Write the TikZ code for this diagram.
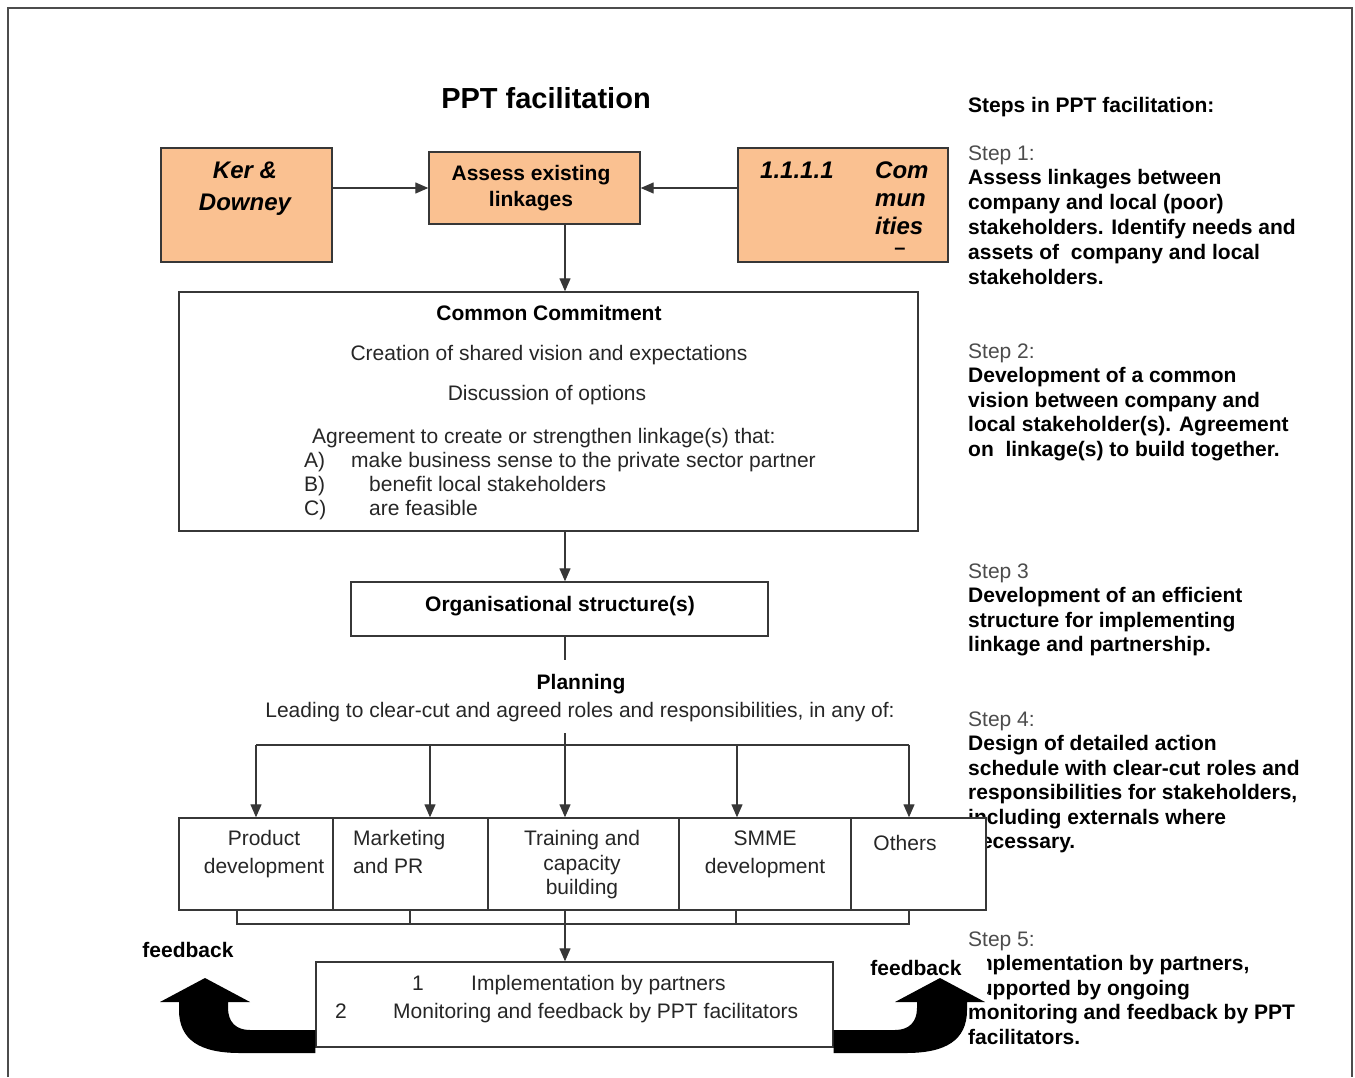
\documentclass[tikz,border=0pt]{standalone}
\usepackage{fontspec}
\setmainfont{Liberation Sans}
\usetikzlibrary{arrows.meta,calc}
\definecolor{orangefill}{RGB}{250,193,145}
\definecolor{linegray}{RGB}{55,55,55}
\begin{document}
\begin{tikzpicture}[x=1pt,y=-1pt,
  box/.style={draw=linegray,line width=1.4pt,inner sep=0pt},
  obox/.style={box,fill=orangefill},
  wbox/.style={box,fill=white},
  txt/.style={inner sep=0pt,text=black!85,font=\fontsize{21}{24.6}\selectfont,text height=17pt,text depth=3pt},
  btxt/.style={inner sep=0pt,text=black,font=\fontsize{21}{24.6}\selectfont\bfseries,text height=17pt,text depth=3pt},
  bitxt/.style={inner sep=0pt,text=black,font=\fontsize{24}{28}\selectfont\bfseries\itshape,text height=19pt,text depth=3pt},
  steplbl/.style={txt,anchor=west,text=black!70},
  stepline/.style={btxt,anchor=west},
  ln/.style={draw=linegray,line width=1.3pt},
  arr/.style={ln,-{Triangle[length=13pt,width=11pt]}},
  fbarrow/.style={fill=black}
]
\useasboundingbox (0,0) rectangle (1355,1077);
% outer frame
\draw[line width=2.2pt,black!70] (8,1077) -- (8,8) -- (1352,8) -- (1352,1077);

% ---------- right column ----------
\node[btxt,anchor=west] (steps) at (968,105) {Steps in PPT facilitation:};
\node[steplbl] (s1) at (968,153) {Step 1:};
\foreach \myline [count=\i] in {Assess linkages between, company and local (poor), stakeholders. Identify needs and, assets of\ \ company and local, stakeholders.}
  \node[stepline] (s1l\i) at (968,{153+24.8*\i}) {\myline};
\node[steplbl] (s2) at (968,351) {Step 2:};
\foreach \myline [count=\i] in {Development of a common, vision between company and, local stakeholder(s). Agreement, on\ \ linkage(s) to build together.}
  \node[stepline] (s2l\i) at (968,{351+24.5*\i}) {\myline};
\node[steplbl] (s3) at (968,571) {Step 3};
\foreach \myline [count=\i] in {Development of an efficient, structure for implementing, linkage and partnership.}
  \node[stepline] (s3l\i) at (968,{571+24.5*\i}) {\myline};
\node[steplbl] (s4) at (968,719) {Step 4:};
\foreach \myline [count=\i] in {Design of detailed action, schedule with clear-cut roles and, {responsibilities for stakeholders,}, including externals where, necessary.}
  \node[stepline] (s4l\i) at (968,{719+24.5*\i}) {\myline};
\node[steplbl] (s5) at (968,939) {Step 5:};
\foreach \myline [count=\i] in {{Implementation by partners,}, supported by ongoing, monitoring and feedback by PPT, facilitators.}
  \node[stepline] (s5l\i) at (968,{939+24.6*\i}) {\myline};

% ---------- title ----------
\node[inner sep=0pt,font=\fontsize{29}{33}\selectfont\bfseries,text height=22pt,text depth=4pt] (title) at (546,99) {PPT facilitation};

% ---------- top boxes ----------
\node[obox,minimum width=171pt,minimum height=114pt] (ker) at (246.5,205) {};
\node[obox,minimum width=211pt,minimum height=72pt] (assess) at (534.5,188) {};
\node[obox,minimum width=210pt,minimum height=114pt] (comm) at (843,205) {};
\node[bitxt] (k1) at (245,170) {Ker \&};
\node[bitxt] (k2) at (245,202) {Downey};
\node[btxt] (a1) at (531,173) {Assess existing};
\node[btxt] (a2) at (531,199) {linkages};
\node[bitxt,anchor=west] (c0) at (760,170) {1.1.1.1};
\node[bitxt,anchor=west] (c1) at (875,170) {Com};
\node[bitxt,anchor=west] (c2) at (875,198) {mun};
\node[bitxt,anchor=west] (c3) at (875,226) {ities};
\node[inner sep=0pt,font=\fontsize{20}{22}\selectfont\bfseries,text height=4pt,text depth=0pt] (c4) at (900,252) {–};

\coordinate (sp) at (565,0);
\draw[arr] (ker.east |- assess.west) -- (assess.west);
\draw[arr] (comm.west |- assess.east) -- (assess.east);

% ---------- common commitment ----------
\node[wbox,minimum width=739pt,minimum height=239pt] (commit) at (548.5,411.5) {};
\draw[arr] (assess.south -| sp) -- (commit.north -| sp);
\node[btxt] (cc1) at (549,313) {Common Commitment};
\node[txt] (cc2) at (549,353) {Creation of shared vision and expectations};
\node[txt] (cc3) at (547,393) {Discussion of options};
\node[txt,anchor=west] (cc4) at (312,436) {Agreement to create or strengthen linkage(s) that:};
\node[txt,anchor=west] (ccA) at (304,460) {A)};
\node[txt,anchor=west] (ccAt) at (351,460) {make business sense to the private sector partner};
\node[txt,anchor=west] (ccB) at (304,484) {B)};
\node[txt,anchor=west] (ccBt) at (369,484) {benefit local stakeholders};
\node[txt,anchor=west] (ccC) at (304,508) {C)};
\node[txt,anchor=west] (ccCt) at (369,508) {are feasible};

% ---------- organisational structure ----------
\node[wbox,minimum width=417pt,minimum height=54pt] (org) at (559.5,609) {};
\node[btxt] (orgt) at (560,604) {Organisational structure(s)};
\draw[arr] (commit.south -| sp) -- (org.north -| sp);
\coordinate (orgend) at (565,660);
\draw[ln] (org.south -| sp) -- (orgend);

% ---------- planning ----------
\node[btxt] (plan) at (581,682) {Planning};
\node[txt] (lead) at (580,710) {Leading to clear-cut and agreed roles and responsibilities, in any of:};

% ---------- activity boxes ----------
\node[wbox,minimum width=154pt,minimum height=92pt] (prod) at (256,864) {};
\node[wbox,minimum width=155pt,minimum height=92pt] (mkt) at (410.5,864) {};
\node[wbox,minimum width=191pt,minimum height=92pt] (train) at (583.5,864) {};
\node[wbox,minimum width=172pt,minimum height=92pt] (smme) at (765,864) {};
\node[wbox,minimum width=135pt,minimum height=92pt] (oth) at (918.5,864) {};
\node[txt] (p1) at (264,838) {Product};
\node[txt] (p2) at (264,866) {development};
\node[txt,anchor=west] (m1) at (353,838) {Marketing};
\node[txt,anchor=west] (m2) at (353,866) {and PR};
\node[txt] (tr1) at (582,838) {Training and};
\node[txt] (tr2) at (582,863) {capacity};
\node[txt] (tr3) at (582,887) {building};
\node[txt] (sm1) at (765,838) {SMME};
\node[txt] (sm2) at (765,866) {development};
\node[txt] (ot) at (905,843) {Others};

\coordinate (hub) at (565,733);
\coordinate (barl) at (256,745);
\coordinate (b2) at (430,745);
\coordinate (b4) at (737,745);
\coordinate (barr) at (909,745);
\draw[ln] (barl) -- (barr);
\draw[arr] (barl) -- (barl |- prod.north);
\draw[arr] (b2) -- (b2 |- mkt.north);
\draw[arr] (hub) -- (hub |- train.north);
\draw[arr] (b4) -- (b4 |- smme.north);
\draw[arr] (barr) -- (barr |- oth.north);

% ---------- implementation ----------
\node[wbox,minimum width=517pt,minimum height=85pt] (impl) at (574.5,1004.5) {};
\node[txt] (i1n) at (418,983) {1};
\node[txt,anchor=west] (i1) at (471,983) {Implementation by partners};
\node[txt] (i2n) at (341,1011) {2};
\node[txt,anchor=west] (i2) at (393,1011) {Monitoring and feedback by PPT facilitators};

\coordinate (t1) at (237,924);
\coordinate (t2) at (410,924);
\coordinate (t4) at (736,924);
\coordinate (t5) at (909,924);
\draw[ln] (t1 |- prod.south) -- (t1) -- (t5) -- (t5 |- oth.south);
\draw[ln] (t2 |- mkt.south) -- (t2);
\draw[ln] (t4 |- smme.south) -- (t4);
\draw[arr] (sp |- train.south) -- (sp |- impl.north);

% ---------- feedback arrows ----------
\node[btxt] (fbl) at (188,950) {feedback};
\node[btxt] (fbr) at (916,968) {feedback};
\fill[white] (962,952) rectangle (987,1003);
\fill[fbarrow] (impl.west |- 0,1030) -- (250,1030)
  .. controls (236,1030) and (228,1022) .. (228,1008) -- (228,1002) -- (250,1002)
  -- (205,978) -- (160,1002) -- (179,1002) -- (179,1010)
  .. controls (179,1040) and (200,1053) .. (240,1053) -- (impl.west |- 0,1053) -- cycle;
\fill[fbarrow] (impl.east |- 0,1030) -- (895,1030)
  .. controls (909,1030) and (917,1022) .. (917,1008) -- (917,1002) -- (895,1002)
  -- (940,978) -- (985,1002) -- (967,1002) -- (967,1010)
  .. controls (967,1040) and (946,1053) .. (906,1053) -- (impl.east |- 0,1053) -- cycle;
\end{tikzpicture}
\end{document}
